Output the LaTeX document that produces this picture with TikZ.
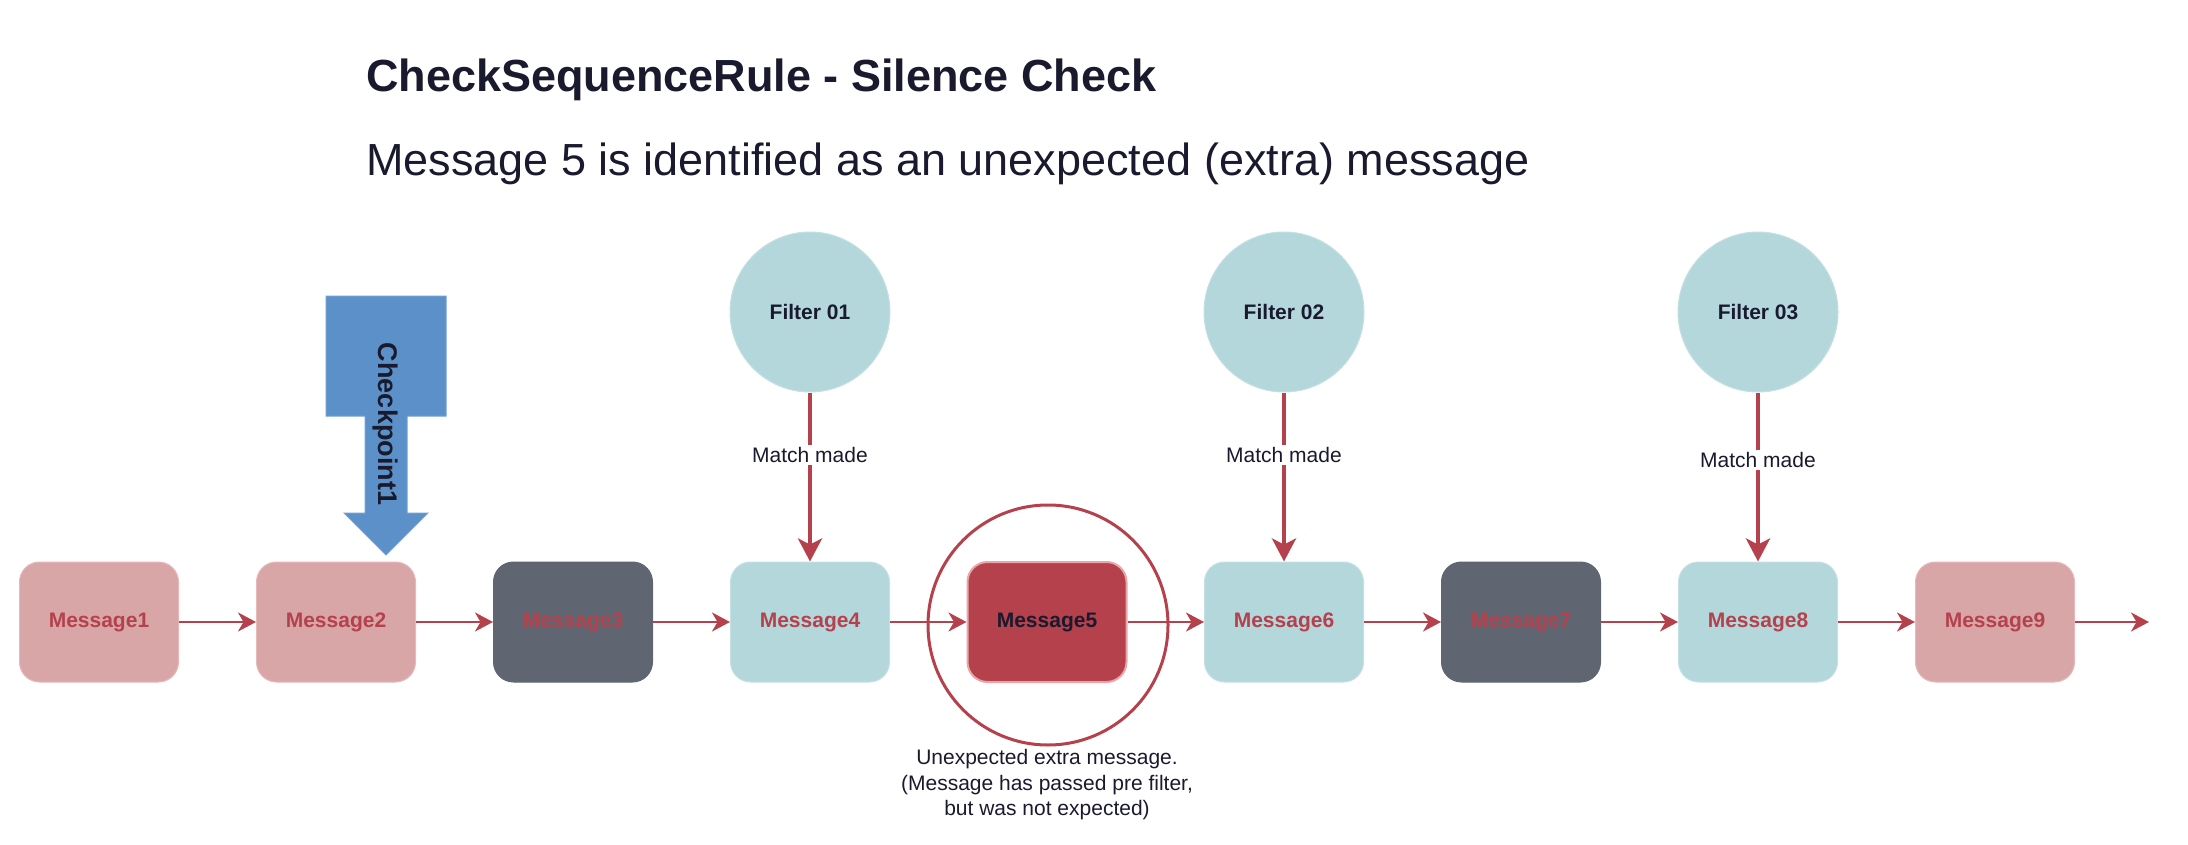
\documentclass[tikz,border=0pt]{standalone}
\usepackage{fontspec}
\setmainfont{Liberation Sans}
\usetikzlibrary{arrows.meta}
\definecolor{pinkbox}{HTML}{D9A6A8}
\definecolor{pinkline}{HTML}{E6B8B9}
\definecolor{darkbox}{HTML}{5F6571}
\definecolor{bluebox}{HTML}{B4D7DC}
\definecolor{blueline}{HTML}{C4E0E4}
\definecolor{redc}{HTML}{B5414C}
\definecolor{redline}{HTML}{E8A6AA}
\definecolor{cpblue}{HTML}{5B90C8}
\definecolor{txt}{HTML}{1A1A2E}
\begin{document}
\begin{tikzpicture}[x=1pt,y=-1pt,
  msg/.style={rounded corners=20pt, minimum width=159pt, minimum height=120pt,
    font=\fontsize{21}{25}\selectfont\bfseries, text=redc, line width=1pt},
  pinkmsg/.style={msg, fill=pinkbox, draw=pinkline},
  darkmsg/.style={msg, fill=darkbox, draw=darkbox},
  bluemsg/.style={msg, fill=bluebox, draw=blueline},
  redmsg/.style={msg, fill=redc, draw=redline, line width=2pt, text=txt},
  filt/.style={circle, minimum size=160pt, fill=bluebox, draw=blueline, line width=1pt,
    font=\fontsize{21}{25}\selectfont\bfseries, text=txt},
  harrow/.style={draw=redc, line width=2.5pt, -{Stealth[length=18pt, width=19pt, inset=5.5pt]}},
  varrow/.style={draw=redc, line width=4pt, -{Stealth[length=23pt, width=24pt, inset=6pt]}},
  lbl/.style={fill=white, inner sep=2pt, text=txt, font=\fontsize{21}{25}\selectfont},
]
\useasboundingbox (0,0) rectangle (2188,845);

% titles
\node[anchor=base west, text=txt, font=\fontsize{45}{54}\selectfont\bfseries, inner sep=0pt] (title) at (366,92) {CheckSequenceRule - Silence Check};
\node[anchor=base west, text=txt, font=\fontsize{45}{54}\selectfont, inner sep=0pt] (subtitle) at (366,176) {Message 5 is identified as an unexpected (extra) message};

% checkpoint arrow
\draw[fill=cpblue, draw=cpblue!85!white, line width=1pt]
  (326,296) -- (446,296) -- (446,416) -- (407,416) -- (407,513) -- (428,513)
  -- (386,555) -- (344,513) -- (365,513) -- (365,416) -- (326,416) -- cycle;
\node[rotate=-90, text=txt, font=\fontsize{27}{30}\selectfont\bfseries] (cp) at (385,424) {Checkpoint1};

% ring around message 5
\node[circle, draw=redc, line width=3pt, minimum size=240pt] (ring) at (1048,625) {};

% messages
\node[pinkmsg] (m1) at (99,622) {Message1};
\node[pinkmsg] (m2) at (336,622) {Message2};
\node[darkmsg] (m3) at (573,622) {Message3};
\node[bluemsg] (m4) at (810,622) {Message4};
\node[redmsg]  (m5) at (1047,622) {Message5};
\node[bluemsg] (m6) at (1284,622) {Message6};
\node[darkmsg] (m7) at (1521,622) {Message7};
\node[bluemsg] (m8) at (1758,622) {Message8};
\node[pinkmsg] (m9) at (1995,622) {Message9};
\coordinate (mend) at (2149,622);

\draw[harrow] (m1) -- (m2);
\draw[harrow] (m2) -- (m3);
\draw[harrow] (m3) -- (m4);
\draw[harrow] (m4) -- (m5);
\draw[harrow] (m5) -- (m6);
\draw[harrow] (m6) -- (m7);
\draw[harrow] (m7) -- (m8);
\draw[harrow] (m8) -- (m9);
\draw[harrow] (m9) -- (mend);

% filters
\node[filt] (f1) at (810,312) {Filter 01};
\node[filt] (f2) at (1284,312) {Filter 02};
\node[filt] (f3) at (1758,312) {Filter 03};
\draw[varrow] (f1) -- node[lbl, pos=0.37] {Match made} (m4);
\draw[varrow] (f2) -- node[lbl, pos=0.37] {Match made} (m6);
\draw[varrow] (f3) -- node[lbl, pos=0.40] {Match made} (m8);

% note
\node[align=center, text=txt, font=\fontsize{21}{25.5}\selectfont] (note) at (1047,785)
  {Unexpected extra message.\\(Message has passed pre filter,\\but was not expected)};
\end{tikzpicture}
\end{document}
